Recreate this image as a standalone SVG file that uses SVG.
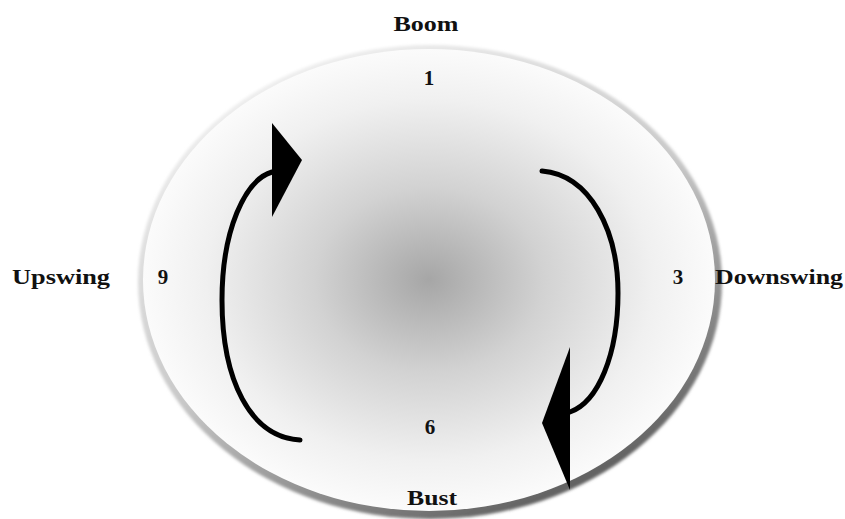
<svg xmlns="http://www.w3.org/2000/svg" width="845" height="519" viewBox="0 0 845 519">
<defs>
<radialGradient id="fillG" cx="0.5" cy="0.5" r="0.5">
<stop offset="0" stop-color="#a6a6a6"/>
<stop offset="0.4" stop-color="#d2d2d2"/>
<stop offset="0.78" stop-color="#f0f0f0"/>
<stop offset="1" stop-color="#fbfbfb"/>
</radialGradient>
<linearGradient id="rimG" x1="0.2" y1="0" x2="0.8" y2="1">
<stop offset="0" stop-color="#f4f4f4"/>
<stop offset="0.5" stop-color="#c8c8c8"/>
<stop offset="1" stop-color="#505050"/>
</linearGradient>
<filter id="blur" x="-5%" y="-5%" width="110%" height="110%"><feGaussianBlur stdDeviation="1.5"/></filter>
</defs>
<style>
.lbl{font-family:"Liberation Serif","Times New Roman",serif;font-weight:bold;font-size:21px;fill:#111;text-anchor:middle}
.arc{fill:none;stroke:#000;stroke-width:5;stroke-linecap:round}
.head{fill:#000}
</style>
<rect width="845" height="519" fill="#fff"/>
<g id="wheel">
<ellipse cx="430" cy="282" rx="292" ry="237" fill="url(#rimG)" filter="url(#blur)"/>
<ellipse cx="429" cy="280" rx="286" ry="231" fill="url(#fillG)"/>
</g>
<g id="connectors">
<path class="arc" d="M300,440 C250,437 222,380 222,300 C222,230 245,180 272,172"/>
<polygon class="head" points="272,123 302,160 272,217"/>
<path class="arc" d="M542,171 C590,175 618,230 618,293 C618,355 598,402 570,412"/>
<polygon class="head" points="570,347 542,423 570,490"/>
</g>
<g id="boom"><text class="lbl" x="426" y="31" textLength="65" lengthAdjust="spacingAndGlyphs">Boom</text><text class="lbl" x="429" y="85">1</text></g>
<g id="downswing"><text class="lbl" x="678" y="284">3</text><text class="lbl" x="779" y="284" textLength="128" lengthAdjust="spacingAndGlyphs">Downswing</text></g>
<g id="bust"><text class="lbl" x="430" y="434">6</text><text class="lbl" x="432" y="505" textLength="50" lengthAdjust="spacingAndGlyphs">Bust</text></g>
<g id="upswing"><text class="lbl" x="163" y="284">9</text><text class="lbl" x="61" y="284" textLength="98" lengthAdjust="spacingAndGlyphs">Upswing</text></g>
</svg>
